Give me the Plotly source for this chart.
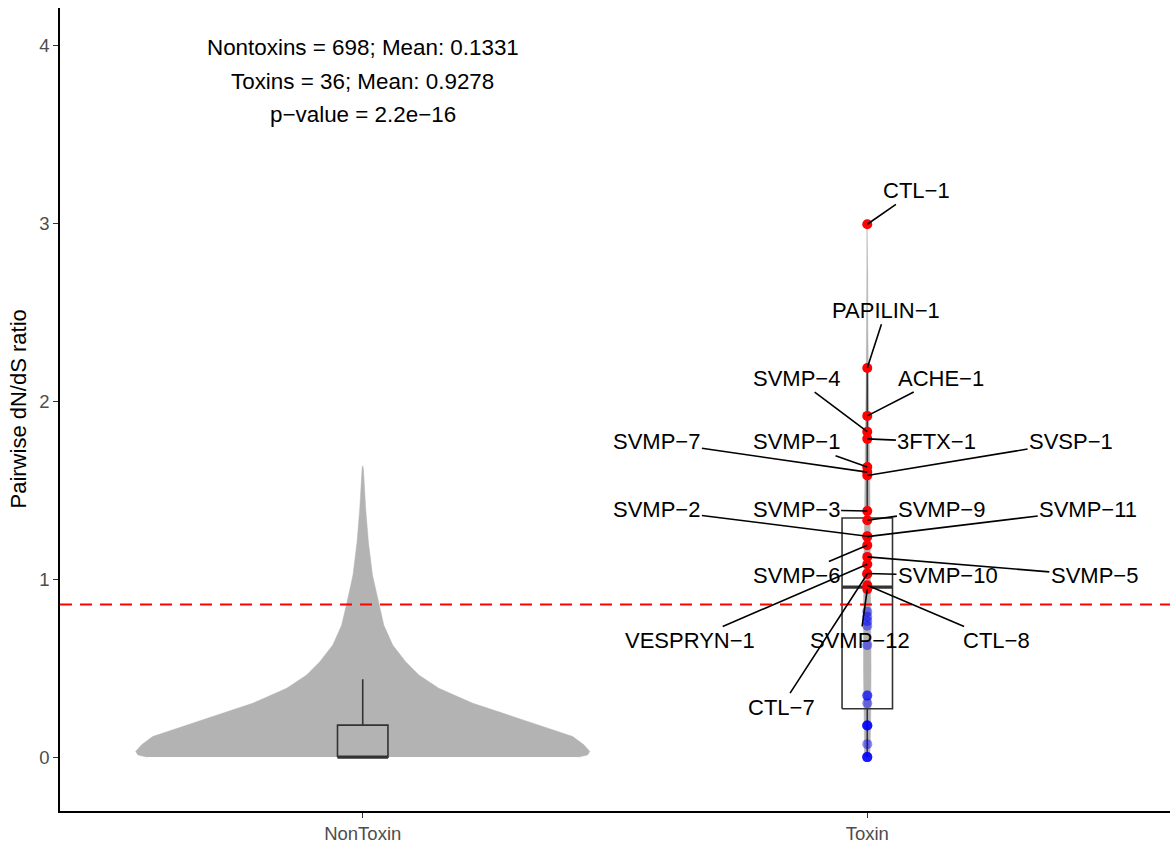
import numpy as np
import plotly.graph_objects as go

# ---- data -------------------------------------------------------------
categories = ["NonToxin", "Toxin"]

# labelled toxin genes and their pairwise dN/dS ratios
toxin_labels = ["CTL−1", "PAPILIN−1", "ACHE−1", "SVMP−4", "3FTX−1",
                "SVMP−1", "SVMP−7", "SVSP−1", "SVMP−3", "SVMP−9",
                "SVMP−2", "SVMP−11", "SVMP−6", "SVMP−5", "VESPRYN−1",
                "SVMP−10", "CTL−7", "CTL−8", "SVMP−12"]
toxin_label_values = [2.997, 2.188, 1.919, 1.830, 1.790,
                      1.631, 1.603, 1.584, 1.384, 1.332,
                      1.242, 1.240, 1.192, 1.126, 1.085,
                      1.033, 1.030, 0.967, 0.945]

# unlabelled toxin genes
toxin_other_values = [0.818, 0.789, 0.765, 0.739, 0.630, 0.346, 0.346,
                      0.303, 0.178, 0.178, 0.178, 0.178, 0.073,
                      0.0, 0.0, 0.0, 0.0]

# dN/dS cut-off
threshold = 0.8585

# non-toxin summary (698 genes): box statistics
nontoxin_box = dict(q1=0.0, median=0.0, q3=0.18, lowerfence=0.0, upperfence=0.438)

# kernel density profiles (relative) used for the violins
nontoxin_density_y = [0.0, 0.012, 0.032, 0.069, 0.116, 0.181, 0.241, 0.303, 0.387,
                      0.462, 0.537, 0.630, 0.742, 0.855, 1.023, 1.210, 1.397,
                      1.621, 1.638]
nontoxin_density = [0.950, 0.990, 1.0, 0.974, 0.925, 0.775, 0.630, 0.485, 0.335,
                    0.247, 0.189, 0.132, 0.093, 0.072, 0.043, 0.025, 0.013,
                    0.003, 0.0]
toxin_density_y = [0.0, 0.2, 0.5, 0.9, 1.2, 1.5, 1.8, 2.1, 2.4, 2.7, 2.997]
toxin_density = [0.70, 0.90, 1.0, 0.95, 0.85, 0.70, 0.50, 0.30, 0.15, 0.12, 0.08]

summary_lines = ["Nontoxins = 698; Mean: 0.1331",
                 "Toxins = 36; Mean: 0.9278",
                 "p−value = 2.2e−16"]

# ---- layout helpers ---------------------------------------------------
pos = {"NonToxin": 1, "Toxin": 2}
violin_half = 0.45          # half of violin width 0.9
toxin_violin_half = 0.0075  # count-scaled violin for 36 genes
box_width = 0.1
grey = "#B3B3B3"
box_line = "#333333"
FONT = "Liberation Sans, Arial, Helvetica, sans-serif"

# label text placement (x, y in data units) for the repelled labels
label_pos = [(2.097, 3.187), (2.037, 2.513), (2.146, 2.132), (1.859, 2.132), (2.138, 1.773),
             (1.859, 1.773), (1.583, 1.773), (2.404, 1.773), (1.859, 1.391), (2.148, 1.391),
             (1.583, 1.391), (2.438, 1.391), (1.859, 1.021), (2.450, 1.021), (1.649, 0.656),
             (2.160, 1.021), (1.829, 0.281), (2.257, 0.656), (1.986, 0.656)]

fig = go.Figure()


def violin(center, ys, dens, half):
    ys = np.asarray(ys)
    w = np.asarray(dens) * half
    xs = np.concatenate([center + w, (center - w)[::-1]])
    yy = np.concatenate([ys, ys[::-1]])
    return go.Scatter(x=xs, y=yy, mode="lines", fill="toself", fillcolor=grey,
                      line=dict(color=grey, width=0.5), hoverinfo="skip")


fig.add_trace(violin(pos["NonToxin"], nontoxin_density_y, nontoxin_density, violin_half))
fig.add_trace(violin(pos["Toxin"], toxin_density_y, toxin_density, toxin_violin_half))

# box statistics for the toxins (Tukey whiskers)
toxin_all = np.array(toxin_label_values + toxin_other_values)
q1, med, q3 = np.percentile(toxin_all, [25, 50, 75])
iqr = q3 - q1
upper = toxin_all[toxin_all <= q3 + 1.5 * iqr].max()
lower = toxin_all[toxin_all >= q1 - 1.5 * iqr].min()
toxin_box = dict(q1=q1, median=med, q3=q3, lowerfence=lower, upperfence=upper)


def boxplot(c, st):
    h = box_width / 2
    line = dict(color=box_line, width=1.6)
    traces = [
        go.Scatter(x=[c - h, c + h, c + h, c - h, c - h],
                   y=[st["q1"], st["q1"], st["q3"], st["q3"], st["q1"]],
                   mode="lines", line=line, hoverinfo="skip"),
        go.Scatter(x=[c, c], y=[st["q3"], st["upperfence"]], mode="lines",
                   line=line, hoverinfo="skip"),
        go.Scatter(x=[c, c], y=[st["lowerfence"], st["q1"]], mode="lines",
                   line=line, hoverinfo="skip"),
        go.Scatter(x=[c - h, c + h], y=[st["median"], st["median"]], mode="lines",
                   line=dict(color=box_line, width=3.2), hoverinfo="skip"),
    ]
    return traces


for cat, st in (("NonToxin", nontoxin_box), ("Toxin", toxin_box)):
    for tr in boxplot(pos[cat], st):
        fig.add_trace(tr)

# points: below the cut-off in translucent blue, above in red
all_vals = toxin_other_values + toxin_label_values
fig.add_trace(go.Scatter(x=[pos["Toxin"]] * len(all_vals), y=all_vals,
                         mode="markers",
                         marker=dict(color=["#FF0000" if v > threshold else "rgba(0,0,255,0.45)"
                                            for v in all_vals],
                                     size=10, line=dict(width=0)),
                         hoverinfo="skip"))

fig.add_hline(y=threshold, line=dict(color="#FF0000", width=2, dash="12px,8px"))

annotations = []
for name, val, (tx, ty) in zip(toxin_labels, toxin_label_values, label_pos):
    annotations.append(dict(x=pos["Toxin"], y=val, xref="x", yref="y",
                            ax=tx, ay=ty, axref="x", ayref="y",
                            text=name, showarrow=True, arrowhead=0, arrowwidth=1.6,
                            arrowcolor="black", standoff=0, startstandoff=0,
                            font=dict(family=FONT, size=22, color="black")))

for line, ty in zip(summary_lines, [3.99, 3.80, 3.614]):
    annotations.append(dict(x=pos["NonToxin"], y=ty, xref="x", yref="y", text=line,
                            showarrow=False, xanchor="center", yanchor="middle",
                            font=dict(family=FONT, size=22.4, color="black")))

annotations.append(dict(x=0, y=0.5, xref="paper", yref="paper", xshift=-42,
                        text="Pairwise dN/dS ratio", textangle=-90, showarrow=False,
                        xanchor="center", yanchor="middle",
                        font=dict(family=FONT, size=22, color="black")))

fig.update_layout(
    width=1170, height=844,
    margin=dict(l=60, r=0, t=8, b=31),
    plot_bgcolor="white", paper_bgcolor="white",
    showlegend=False,
    annotations=annotations,
    xaxis=dict(range=[0.4, 2.6], tickvals=[1, 2], ticktext=categories,
               showline=True, linecolor="black", linewidth=1.5, mirror=False,
               ticks="outside", ticklen=5, tickwidth=1.2, tickcolor="#333333",
               tickfont=dict(family=FONT, size=18.5, color="#4D4D4D"),
               showgrid=False, zeroline=False),
    yaxis=dict(range=[-0.303, 4.213], tickvals=[0, 1, 2, 3, 4],
               showline=True, linecolor="black", linewidth=1.5,
               ticks="outside", ticklen=5, tickwidth=1.2, tickcolor="#333333",
               tickfont=dict(family=FONT, size=18.5, color="#4D4D4D"),
               showgrid=False, zeroline=False),
)

fig.write_html("out.html")
